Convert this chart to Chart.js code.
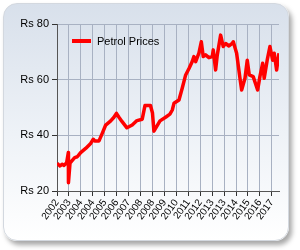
<!DOCTYPE html>
<html>
<head>
<meta charset="utf-8">
<script src="https://cdn.jsdelivr.net/npm/chart.js@4.4.1/dist/chart.umd.min.js"></script>
<style>
    html, body { margin: 0; padding: 0; background: #fff; }
    #wrap { position: relative; width: 300px; height: 250px; overflow: hidden; }
    #card {
        position: absolute; left: 3px; top: 3px; width: 284px; height: 236px;
        border-radius: 14px; border: 1px solid #d3d8df;
        background: linear-gradient(#d8e0eb, #eef2f7 55%, #ffffff);
        box-shadow: 3px 4px 5px rgba(0, 0, 0, 0.35);
    }
    canvas { position: absolute; left: 0; top: 0; }
</style>
</head>
<body>
<div id="wrap">
    <div id="card"></div>
    <canvas id="chart" width="300" height="250"></canvas>
</div>
<script>
// Tick labels (one every 10 months)
const tickLabels = ['2002', '2003', '2004', '2004', '2005', '2006', '2007', '2008', '2008', '2009',
    '2010', '2011', '2012', '2013', '2013', '2014', '2015', '2016', '2017'];

// Months since start of series
const months = [0, 2.5, 4.4, 5.9, 8.1, 9.5, 9.6, 10.9, 12.8, 14.8,
    17, 19.8, 24, 28.2, 30.4, 31.6, 35.2, 37.9, 40.8, 45,
    47.7, 49.8, 51.9, 54.4, 58.6, 63, 67, 71.4, 73.7, 78.3,
    80, 81.2, 86.3, 91.3, 94.6, 96.6, 98, 102.2, 104.9, 107.8,
    110.6, 113.3, 114.7, 116.2, 118.9, 120.9, 122.5, 124.5, 127.3, 130.1,
    130.9, 132.9, 134.3, 137.1, 139.3, 141.3, 144.1, 146.8, 147.7, 150.5,
    153.3, 154.7, 157.5, 159.4, 161.1, 164.4, 168.1, 170, 172.3, 173.6,
    176.1, 178.4, 180.7, 182, 184, 186];

// Petrol price (Rs)
const prices = [30, 29, 29.6, 29.2, 30.2, 33.8, 23, 30, 31, 32,
    32.3, 33.8, 35.3, 37.1, 38.6, 38, 38, 40.7, 43.7, 45.2,
    46.5, 47.9, 46.5, 45, 42.7, 43.7, 45.3, 45.8, 50.7, 50.7,
    48, 41.5, 45.2, 46.6, 47.6, 49.1, 51.5, 52.7, 56.9, 61.7,
    64, 66.5, 68.3, 66.5, 69.5, 73.6, 68.3, 68.9, 67.9, 68.3,
    70.7, 63.5, 68.9, 76, 71.9, 73, 72.1, 73, 73.6, 69.5,
    60.5, 56.3, 60.5, 67, 61.7, 61.1, 56.3, 61.1, 65.9, 60.5,
    67, 71.9, 67, 69.5, 63.5, 69.5];

const lineColor = '#ff0000';
const fontFamily = '"Liberation Sans", Arial, sans-serif';

// Legend drawn inside the plot area
const innerLegend = {
    id: 'innerLegend',
    afterDraw(chart) {
        const ctx = chart.ctx;
        const area = chart.chartArea;
        const x = area.left + 15;
        const y = area.top + 17;
        ctx.save();
        ctx.strokeStyle = lineColor;
        ctx.lineWidth = 4;
        ctx.beginPath();
        ctx.moveTo(x, y);
        ctx.lineTo(x + 19, y);
        ctx.stroke();
        ctx.fillStyle = '#000';
        ctx.font = '11px ' + fontFamily;
        ctx.textBaseline = 'middle';
        ctx.fillText('Petrol Prices', x + 25, y + 1);
        ctx.restore();
    }
};

new Chart(document.getElementById('chart'), {
    type: 'line',
    data: {
        datasets: [{
            label: 'Petrol Prices',
            data: months.map((m, i) => ({ x: m, y: prices[i] })),
            borderColor: lineColor,
            borderWidth: 3.5,
            pointRadius: 0,
            tension: 0,
            borderJoinStyle: 'round'
        }]
    },
    options: {
        responsive: false,
        animation: false,
        devicePixelRatio: 1,
        layout: { padding: { top: 24, right: 21, left: 0, bottom: 0 } },
        plugins: {
            legend: { display: false },
            tooltip: { enabled: false }
        },
        scales: {
            x: {
                type: 'linear',
                min: 0,
                max: 186,
                afterBuildTicks: scale => {
                    scale.ticks = tickLabels.map((_, i) => ({ value: i * 10 }));
                },
                afterFit: scale => { scale.height = 59; },
                ticks: {
                    autoSkip: false,
                    minRotation: 54,
                    maxRotation: 54,
                    padding: 1,
                    color: '#000',
                    font: { family: fontFamily, size: 10 },
                    callback: v => tickLabels[Math.round(v / 10)]
                },
                grid: { color: '#a8b1c2', tickColor: '#333', tickLength: 5 },
                border: { color: '#555' }
            },
            y: {
                min: 20,
                max: 80,
                afterFit: scale => { scale.width = 57; },
                ticks: {
                    stepSize: 20,
                    padding: 3,
                    color: '#000',
                    font: { family: fontFamily, size: 11 },
                    callback: v => 'Rs ' + v
                },
                grid: { color: '#a8b1c2', tickColor: '#333', tickLength: 5 },
                border: { color: '#555' }
            }
        }
    },
    plugins: [innerLegend]
});
</script>
</body>
</html>
